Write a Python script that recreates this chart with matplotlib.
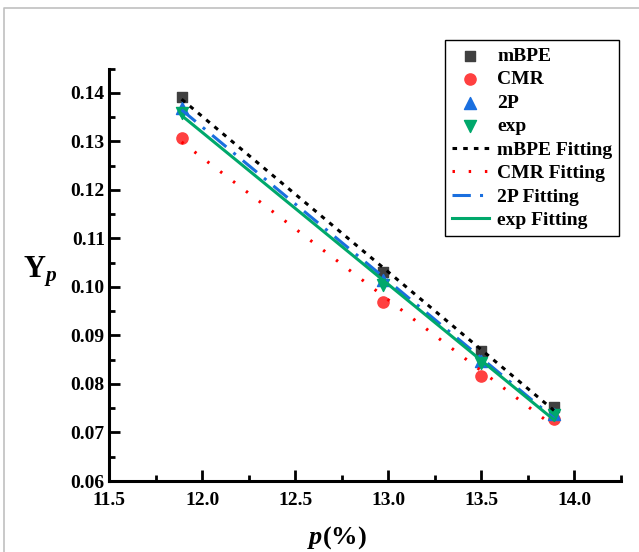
import numpy as np
import matplotlib.pyplot as plt
from matplotlib.lines import Line2D
from matplotlib.ticker import MultipleLocator

p = [11.89, 12.97, 13.50, 13.89]
mbpe = [0.1392, 0.1030, 0.0868, 0.0753]
cmr = [0.1307, 0.0968, 0.0817, 0.0728]
tp = [0.1369, 0.1015, 0.0847, 0.0738]
expv = [0.1359, 0.1004, 0.0843, 0.0736]

plt.rcParams["font.family"] = ["Liberation Serif", "DejaVu Serif"]
plt.rcParams["font.weight"] = "bold"
plt.rcParams["mathtext.fontset"] = "custom"
plt.rcParams["mathtext.rm"] = "Liberation Serif:bold"
plt.rcParams["mathtext.it"] = "Liberation Serif:bold:italic"
plt.rcParams["mathtext.bf"] = "Liberation Serif:bold"

fig = plt.figure(figsize=(6.39, 5.52), dpi=100)
ax = fig.add_axes([109 / 639, 1 - 481 / 552, (621 - 109) / 639, (481 - 68.5) / 552])

# grey outer frame
fig.add_artist(Line2D([4 / 639, 4 / 639, 1], [0, 1 - 8 / 552, 1 - 8 / 552],
                      transform=fig.transFigure, color="#c0c0c0", lw=1.2))

x = np.array(p)
fits = [
    (mbpe, "#000000", (0, (1.5, 2.0)), "mBPE Fitting"),
    (cmr, "#ff0000", (0, (0.8, 4.5)), "CMR Fitting"),
    (tp, "#1a6fdf", (0, (6, 3, 1, 3)), "2P Fitting"),
    (expv, "#00a86b", "-", "exp Fitting"),
]

ax.scatter(p, mbpe, marker="s", s=55, color="#404040", label="mBPE", zorder=3)
ax.scatter(p, cmr, marker="o", s=65, color="#ff4040", label="CMR", zorder=3)
ax.scatter(p, tp, marker="^", s=75, color="#1a6fdf", label="2P", zorder=3)
ax.scatter(p, expv, marker="v", s=75, color="#00a86b", label="exp", zorder=3)

# linear fits over the data range
for ys, c, ls, lab in fits:
    k, b = np.polyfit(x, ys, 1)
    xx = np.array([x[0], x[-1]])
    ax.plot(xx, k * xx + b, color=c, ls=ls, lw=2.2, label=lab, zorder=4)

ax.set_xlim(11.5, 14.25)
ax.set_ylim(0.06, 0.145)
ax.xaxis.set_major_locator(MultipleLocator(0.5))
ax.xaxis.set_minor_locator(MultipleLocator(0.25))
ax.yaxis.set_major_locator(MultipleLocator(0.01))
ax.yaxis.set_minor_locator(MultipleLocator(0.005))
ax.xaxis.set_major_formatter(plt.FuncFormatter(lambda v, _: f"{v:.1f}"))
ax.yaxis.set_major_formatter(plt.FuncFormatter(lambda v, _: f"{v:.2f}"))

for s in ["top", "right"]:
    ax.spines[s].set_visible(False)
for s in ["left", "bottom"]:
    ax.spines[s].set_linewidth(2.2)

ax.tick_params(which="major", direction="in", length=8, width=2, labelsize=14)
ax.tick_params(axis="x", which="major", pad=8)
ax.tick_params(axis="y", which="major", pad=3)
ax.tick_params(which="minor", direction="in", length=4, width=2)
for t in ax.get_xticklabels() + ax.get_yticklabels():
    t.set_fontweight("bold")

ax.set_xlabel(r"$p$(%)", fontsize=19, fontweight="bold")
ax.xaxis.set_label_coords(0.445, -0.105)
ax.set_ylabel(r"Y$_p$", fontsize=22, fontweight="bold", rotation=0)
ax.yaxis.set_label_coords(-0.135, 0.465)

leg = ax.legend(loc="upper right", bbox_to_anchor=(0.997, 1.068),
                frameon=True, fancybox=False, edgecolor="#000000", framealpha=1,
                handlelength=1.9, handletextpad=0.45, labelspacing=0.3,
                borderpad=0.35, borderaxespad=0.0,
                prop={"weight": "bold", "size": 14})
leg.get_frame().set_linewidth(1.0)

fig.savefig("out.png", dpi=100)
